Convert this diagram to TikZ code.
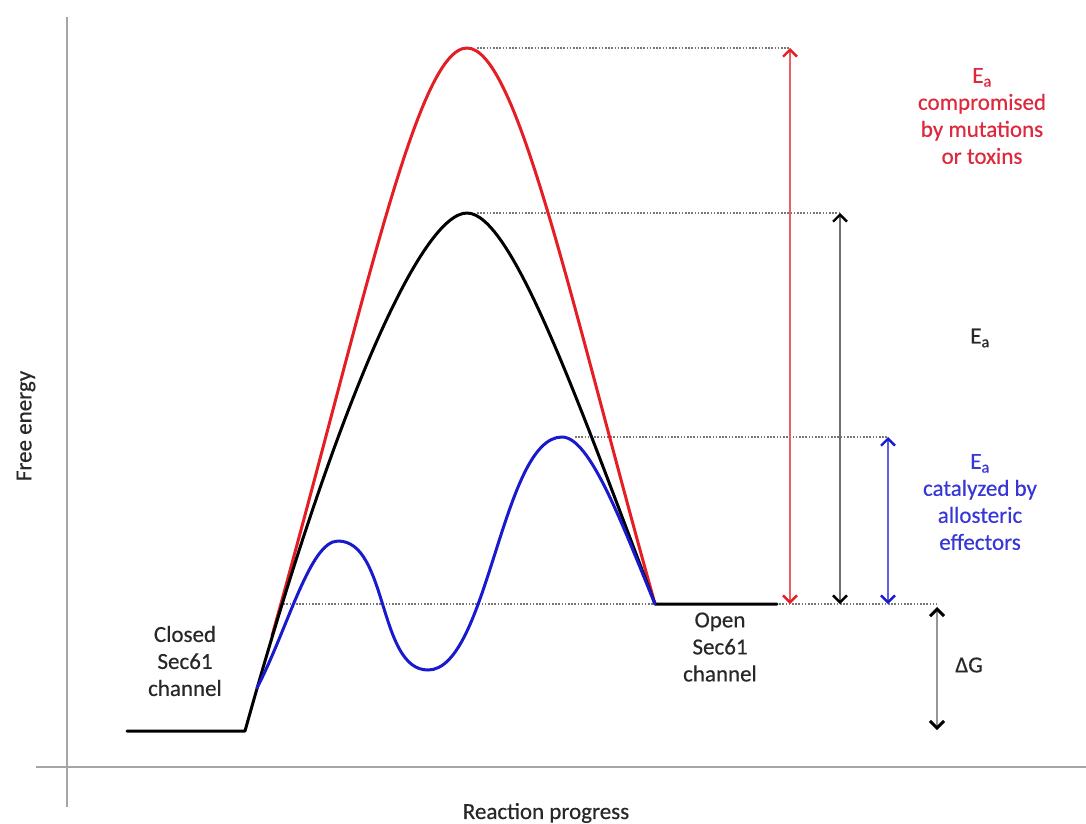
\documentclass[tikz,border=0pt]{standalone}
\usepackage{fontspec}
\setmainfont{Carlito}
\newfontfamily\lblfont{Carlito}[FakeBold=0.4]
\usetikzlibrary{arrows.meta}
\definecolor{cred}{RGB}{228,30,36}
\definecolor{cblue}{RGB}{25,25,205}
\definecolor{tred}{RGB}{222,40,60}
\definecolor{tblue}{RGB}{55,55,215}
\definecolor{tblack}{RGB}{40,40,40}
\definecolor{axisgray}{RGB}{165,165,165}
\definecolor{dotgray}{RGB}{120,120,120}
\definecolor{shaftred}{RGB}{235,95,95}
\definecolor{shaftblue}{RGB}{95,95,230}
\definecolor{shaftgray}{RGB}{110,110,110}
\definecolor{shaftlight}{RGB}{150,150,150}
\begin{document}
\begin{tikzpicture}[x=1pt,y=-1pt,
  curve/.style={line width=3pt, line cap=round, line join=round},
  guide/.style={dotgray, line width=1.2pt, dash pattern=on 1.6pt off 1.6pt},
  axisline/.style={axisgray, line width=2.5pt},
  lbl/.style={font=\lblfont\fontsize{23}{27}\selectfont, align=center, inner sep=0pt},
  dimarrow/.style={line width=1.4pt,
    {Straight Barb[length=7pt,width=14pt,line width=1pt 1,color=#1]}-{Straight Barb[length=7pt,width=14pt,line width=1pt 1,color=#1]}}
]
\useasboundingbox (0,0) rectangle (1086,823);
\fill[white] (0,0) rectangle (1086,823);

% axes
\coordinate (ytop) at (67,17);
\coordinate (ybot) at (67,807);
\coordinate (xl) at (36,767);
\coordinate (xr) at (1086,767);
\draw[axisline] (ytop) -- (ybot);
\draw[axisline] (xl) -- (xr);

% guide coordinates
\coordinate (lowL) at (280,604);
\coordinate (lowR) at (937,604);
\coordinate (redL) at (477,48);
\coordinate (Rtop) at (790,48);
\coordinate (Rbot) at (790,604);
\coordinate (blkL) at (477,213);
\coordinate (Ktop) at (840,213);
\coordinate (Kbot) at (840,604);
\coordinate (bluL) at (575,437);
\coordinate (Btop) at (888,437);
\coordinate (Bbot) at (888,604);
\coordinate (Gtop) at (937,607);
\coordinate (Gbot) at (937,730);

% dotted guides
\draw[guide] (lowL) -- (lowR);
\draw[guide] (redL) -- (Rtop);
\draw[guide] (blkL) -- (Ktop);
\draw[guide] (bluL) -- (Btop);

% curves
\draw[curve, cred] (272,636) .. controls (364,306) and (417,48) .. (467,48)
  .. controls (517,48) and (571,304) .. (655,604);
\draw[curve, black] (127,731) -- (245,731) .. controls (337,401) and (422,213) .. (467,213)
  .. controls (512,213) and (579,404) .. (655,604) -- (777,604);
\draw[curve, cblue] (257,688) .. controls (288,628) and (310,541) .. (338,541)
  .. controls (388,541) and (378,670) .. (428,670)
  .. controls (488,670) and (502,437) .. (562,437)
  .. controls (590,437) and (622,524) .. (655,604);

% dimension arrows
\draw[dimarrow=cred, shaftred] (Rtop) -- (Rbot);
\draw[dimarrow=black, shaftgray] (Ktop) -- (Kbot);
\draw[dimarrow=cblue, shaftblue] (Btop) -- (Bbot);
\draw[dimarrow=black, shaftlight, line width=2pt] (Gtop) -- (Gbot);

% labels
\node[lbl, text=tred] (redlbl) at (982,116) {E\textsubscript{a}\\compromised\\by mutations\\or toxins};
\node[lbl, text=tblack] (blklbl) at (980,338) {E\textsubscript{a}};
\node[lbl, text=tblue] (blulbl) at (980,502) {E\textsubscript{a}\\catalyzed by\\allosteric\\effectors};
\node[lbl, text=tblack] (closed) at (185,661) {Closed\\Sec61\\channel};
\node[lbl, text=tblack] (open) at (720,647) {Open\\Sec61\\channel};
\node[lbl, text=tblack] (dg) at (969,665) {ΔG};
\node[lbl, text=tblack, rotate=90] (fe) at (26,426) {Free energy};
\node[lbl, text=tblack] (rp) at (546,813) {Reaction progress};
\end{tikzpicture}
\end{document}
